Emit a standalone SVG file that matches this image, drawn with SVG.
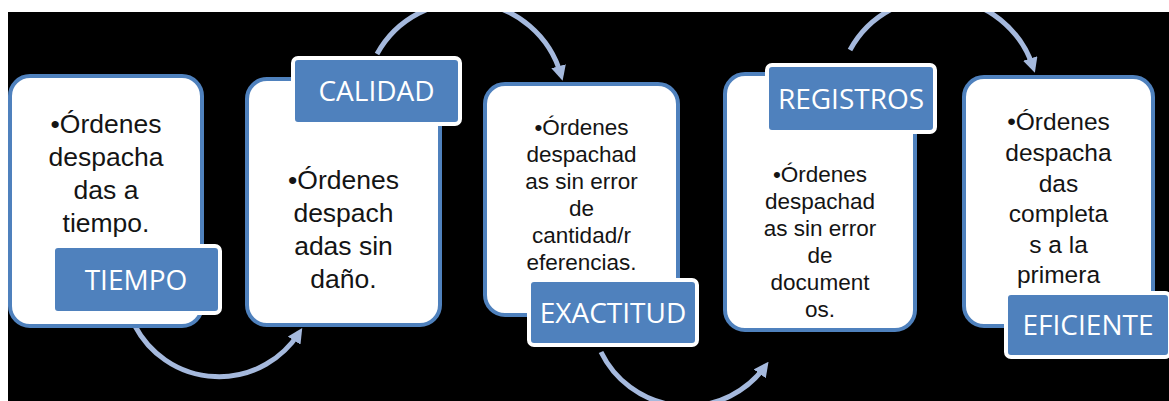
<svg xmlns="http://www.w3.org/2000/svg" width="1169" height="401" viewBox="0 0 1169 401">
<style>
.box{fill:#ffffff;stroke:#4f81bd;stroke-width:4}
.tag{fill:#4f81bd;stroke:#ffffff;stroke-width:4}
.t{font-family:"Liberation Sans",Arial,sans-serif;fill:#141414;text-anchor:middle}
.tt{font-family:"Open Sans","Liberation Sans",sans-serif;fill:#ffffff;font-size:28px;text-anchor:middle}
.arc{fill:none;stroke:#a5b9dd;stroke-width:5;marker-end:url(#ah)}
</style>
<defs>
<marker id="ah" markerUnits="userSpaceOnUse" markerWidth="15" markerHeight="15" viewBox="0 0 10 10" refX="6" refY="5" orient="auto">
<path d="M0,0 L10,5 L0,10 z" fill="#a5b9dd"/>
</marker>
</defs>
<rect x="0" y="0" width="1169" height="401" fill="#ffffff"/>
<rect x="8" y="12" width="1161" height="389" fill="#000000"/>
<g id="connectors">
<path class="arc" d="M135,326 A95,95 0 0 0 299,333"/>
<path class="arc" d="M377,54 A100,100 0 0 1 561,75"/>
<path class="arc" d="M601,352 A96,96 0 0 0 765,366.5"/>
<path class="arc" d="M850,50 A100,100 0 0 1 1033,67"/>
</g>
<g id="node-tiempo">
<rect class="box" x="10" y="76" width="192" height="250" rx="20"/>
<text class="t" font-size="26.5"><tspan x="106" y="133">•Órdenes</tspan><tspan x="106" y="166">despacha</tspan><tspan x="106" y="199">das a</tspan><tspan x="106" y="232">tiempo.</tspan></text>
<rect class="tag" x="53" y="246" width="167" height="67" rx="5"/>
<text class="tt" x="136" y="290">TIEMPO</text>
</g>
<g id="node-calidad">
<rect class="box" x="247" y="79" width="193" height="246" rx="20"/>
<text class="t" font-size="26.5"><tspan x="343.5" y="189">•Órdenes</tspan><tspan x="343.5" y="222">despach</tspan><tspan x="343.5" y="255">adas sin</tspan><tspan x="343.5" y="288">daño.</tspan></text>
<rect class="tag" x="293" y="58" width="167" height="66" rx="5"/>
<text class="tt" x="376.5" y="101">CALIDAD</text>
</g>
<g id="node-exactitud">
<rect class="box" x="485" y="84" width="193" height="231" rx="20"/>
<text class="t" font-size="22.5"><tspan x="581.5" y="135">•Órdenes</tspan><tspan x="581.5" y="162">despachad</tspan><tspan x="581.5" y="189">as sin error</tspan><tspan x="581.5" y="216">de</tspan><tspan x="581.5" y="243">cantidad/r</tspan><tspan x="581.5" y="270">eferencias.</tspan></text>
<rect class="tag" x="529" y="280" width="168" height="65" rx="5"/>
<text class="tt" x="613" y="322.5">EXACTITUD</text>
</g>
<g id="node-registros">
<rect class="box" x="725" y="74" width="190" height="256" rx="20"/>
<text class="t" font-size="22.5"><tspan x="820" y="182">•Órdenes</tspan><tspan x="820" y="209">despachad</tspan><tspan x="820" y="236">as sin error</tspan><tspan x="820" y="263">de</tspan><tspan x="820" y="290">document</tspan><tspan x="820" y="317">os.</tspan></text>
<rect class="tag" x="767" y="65" width="168" height="67" rx="5"/>
<text class="tt" x="851" y="108.5">REGISTROS</text>
</g>
<g id="node-eficiente">
<rect class="box" x="964" y="77" width="189" height="249" rx="20"/>
<text class="t" font-size="24.5"><tspan x="1058.5" y="130">•Órdenes</tspan><tspan x="1058.5" y="161">despacha</tspan><tspan x="1058.5" y="192">das</tspan><tspan x="1058.5" y="222">completa</tspan><tspan x="1058.5" y="253">s a la</tspan><tspan x="1058.5" y="283">primera</tspan></text>
<rect class="tag" x="1006" y="293" width="164" height="64" rx="5"/>
<text class="tt" x="1088" y="335">EFICIENTE</text>
</g>
<rect x="0" y="0" width="1169" height="12" fill="#ffffff"/>
<rect x="0" y="0" width="8" height="401" fill="#ffffff"/>
</svg>
